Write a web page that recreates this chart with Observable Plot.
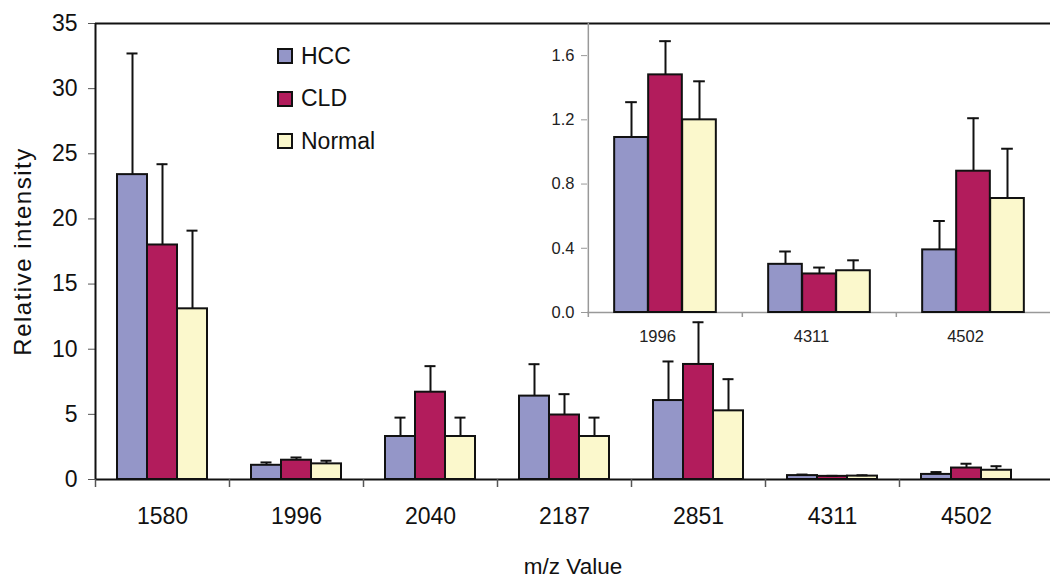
<!DOCTYPE html>
<html><head><meta charset="utf-8">
<script src="https://cdn.jsdelivr.net/npm/d3@7"></script>
<script src="https://cdn.jsdelivr.net/npm/@observablehq/plot@0.6"></script>
<style>
body{margin:0;background:#fff;font-family:"Liberation Sans",Arial,sans-serif}
#wrap{position:relative;width:1050px;height:581px;overflow:hidden}
#inset{position:absolute;left:0;top:0}
#legend{position:absolute;left:277px;top:35px;font-size:23px;color:#111}
#legend .item{display:flex;align-items:center;height:42.5px}
#legend .sw{width:12px;height:12px;border:2px solid #111;margin-right:8px}
</style></head>
<body><div id="wrap"><div id="main"></div><div id="inset"></div><div id="legend"></div></div>
<script>
// ---- data ----
const categories = ["1580","1996","2040","2187","2851","4311","4502"];
const series = ["HCC","CLD","Normal"];
const hcc     = [23.4, 1.09, 3.3, 6.4, 6.06, 0.30, 0.39];
const cld     = [18.0, 1.48, 6.7, 4.95, 8.83, 0.24, 0.88];
const normal  = [13.1, 1.20, 3.3, 3.3, 5.27, 0.26, 0.71];
const hccErr    = [9.3, 0.22, 1.45, 2.45, 3.0, 0.08, 0.18];
const cldErr    = [6.2, 0.21, 2.0, 1.6, 3.24, 0.04, 0.33];
const normalErr = [6.0, 0.24, 1.45, 1.45, 2.43, 0.065, 0.31];
const insetCategories = ["1996","4311","4502"];
const yTicks = [0,5,10,15,20,25,30,35];
const insetTicks = [0,0.4,0.8,1.2,1.6];
const colors = ["#9496C8","#B21C5C","#FBF8CC"];
const yLabel = "Relative intensity";
const xLabel = "m/z Value";

const vals = [hcc, cld, normal], errs = [hccErr, cldErr, normalErr];
const rows = [];
categories.forEach((c,i)=>series.forEach((s,k)=>rows.push({cat:c, series:s, k, value:vals[k][i], top:vals[k][i]+errs[k][i]})));
const insetRows = rows.filter(d=>insetCategories.includes(d.cat));

function groupedMarks(data, step, barW, capW) {
  const marks = [];
  series.forEach((s,k)=>{
    const d = data.filter(r=>r.series===s);
    const dx = (k-1)*barW;
    const L = (step-barW)/2, C = (step-capW)/2;
    marks.push(Plot.barY(d, {x:"cat", y:"value", fill:"series", stroke:"#111", strokeWidth:2, insetLeft:L, insetRight:L, dx}));
    marks.push(Plot.ruleX(d, {x:"cat", y1:"value", y2:"top", stroke:"#111", strokeWidth:2, dx}));
    marks.push(Plot.tickY(d, {x:"cat", y:"top", stroke:"#111", strokeWidth:2, insetLeft:C, insetRight:C, dx}));
  });
  return marks;
}

// ---- main chart ----
const mainLeft = 95, mainRight = 1033, mainStep = (mainRight-mainLeft)/categories.length;
const main = Plot.plot({
  width:1050, height:581, marginLeft:95, marginRight:0, marginTop:23, marginBottom:102,
  style:{fontFamily:"Liberation Sans, Arial, sans-serif", fontSize:"23px", color:"#111", background:"white"},
  x:{type:"band", domain:categories, range:[mainLeft, mainRight], padding:0},
  y:{domain:[0,35]},
  color:{domain:series, range:colors},
  marks:[
    Plot.axisY({ticks:yTicks, tickSize:7, tickPadding:11, fontSize:23, label:null, stroke:"#555"}),
    Plot.axisX({tickSize:0, tickPadding:28, fontSize:23, label:null}),
    ...groupedMarks(rows, mainStep, 30, 11),
    Plot.ruleY([0], {stroke:"#111", strokeWidth:2}),
    Plot.ruleY([35], {stroke:"#111", strokeWidth:2}),
    Plot.ruleX(categories.slice(0,1), {x:d=>d, dx:-mainStep/2, y1:0, y2:35, stroke:"#111", strokeWidth:2}),
    Plot.ruleX(categories, {x:d=>d, dx:-mainStep/2, y1:0, y2:0, insetTop:8, stroke:"#555", strokeWidth:1.5}),
    Plot.text([yLabel], {text:d=>d, frameAnchor:"left", textAnchor:"middle", dx:-72, rotate:-90, fontSize:24, fill:"#111"}),
    Plot.text([xLabel], {text:d=>d, frameAnchor:"bottom", textAnchor:"middle", dy:94, fontSize:22.5, fill:"#111"})
  ]
});
d3.select(main).selectAll("text").filter(function(){return this.textContent===yLabel;}).style("letter-spacing","1.5px");
document.getElementById("main").append(main);

// ---- inset ----
const inLeft = 587, inRight = 1050, inStep = (inRight-inLeft)/insetCategories.length;
const inset = Plot.plot({
  width:1050, height:360, marginLeft:587, marginRight:0, marginTop:23, marginBottom:48,
  style:{fontFamily:"Liberation Sans, Arial, sans-serif", fontSize:"16.5px", color:"#222", background:"transparent"},
  x:{type:"band", domain:insetCategories, range:[inLeft, inRight], padding:0},
  y:{domain:[0,1.8]},
  color:{domain:series, range:colors},
  marks:[
    Plot.axisY({ticks:insetTicks, tickFormat:d3.format(".1f"), tickSize:6, tickPadding:7, fontSize:16.5, label:null, stroke:"#999"}),
    Plot.axisX({tickSize:0, tickPadding:18, fontSize:16.5, label:null, dx:-8}),
    Plot.ruleY([0], {stroke:"#999", strokeWidth:1.5}),
    Plot.ruleX(insetCategories.slice(0,1), {x:d=>d, dx:-inStep/2, y1:0, y2:1.8, stroke:"#999", strokeWidth:1.5}),
    Plot.ruleX(insetCategories, {x:d=>d, dx:-inStep/2, y1:0, y2:0, insetTop:5, stroke:"#999", strokeWidth:1.5}),
    ...groupedMarks(insetRows, inStep, 34, 12)
  ]
});
document.getElementById("inset").append(inset);

// ---- legend ----
const lg = document.getElementById("legend");
series.forEach((s,k)=>{
  const it = document.createElement("div"); it.className="item";
  const sw = document.createElement("span"); sw.className="sw"; sw.style.background=colors[k];
  const tx = document.createElement("span"); tx.textContent = s;
  it.append(sw, tx); lg.append(it);
});
</script>
</body></html>
